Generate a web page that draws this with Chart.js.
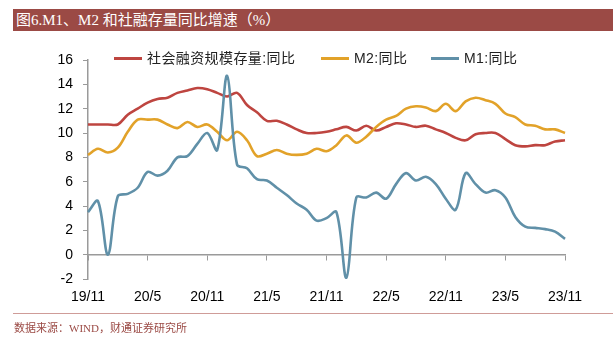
<!DOCTYPE html>
<html>
<head>
<meta charset="utf-8">
<script src="https://cdn.jsdelivr.net/npm/chart.js@4.4.1/dist/chart.umd.min.js"></script>
<style>
  body { margin: 0; background: #fff; }
  #wrap { position: relative; width: 613px; height: 340px; overflow: hidden; }
  #chart { position: absolute; left: 0; top: 0; }
  .title {
    position: absolute; left: 13px; top: 9px; width: 600px; height: 22px;
    background: #9b4a45; color: #fff;
    font: 15px "Liberation Serif", "Noto Sans CJK SC", serif;
    line-height: 22px; padding-left: 3px; box-sizing: border-box;
  }
  .rule { position: absolute; left: 13px; top: 313px; width: 600px; height: 1px; background: #cf9c98; }
  .source {
    position: absolute; left: 14px; top: 319px;
    font: 11px "Liberation Serif", "Noto Sans CJK SC", serif; color: #9b4a45;
  }
  .lg { position: absolute; top: 50px; font: 14px "Liberation Sans", "Noto Sans CJK SC", sans-serif; color: #222; line-height: 16px; letter-spacing: 0.4px; }
  .sw { position: absolute; top: 57px; height: 3px; width: 28px; }
</style>
</head>
<body>
<div id="wrap">
  <canvas id="chart" width="613" height="340"></canvas>
  <div class="title">图6.M1、M2 和社融存量同比增速（%）</div>
  <div class="sw" style="left:114px;background:#be4540"></div>
  <div class="lg" style="left:147px">社会融资规模存量:同比</div>
  <div class="sw" style="left:321px;background:#e2a229"></div>
  <div class="lg" style="left:354px">M2:同比</div>
  <div class="sw" style="left:431px;background:#6090a8"></div>
  <div class="lg" style="left:464px">M1:同比</div>
  <div class="rule"></div>
  <div class="source">数据来源：WIND，财通证券研究所</div>
</div>
<script>
// months 2019/11 .. 2023/11
const months = [
  '19/11','19/12',
  '20/1','20/2','20/3','20/4','20/5','20/6','20/7','20/8','20/9','20/10','20/11','20/12',
  '21/1','21/2','21/3','21/4','21/5','21/6','21/7','21/8','21/9','21/10','21/11','21/12',
  '22/1','22/2','22/3','22/4','22/5','22/6','22/7','22/8','22/9','22/10','22/11','22/12',
  '23/1','23/2','23/3','23/4','23/5','23/6','23/7','23/8','23/9','23/10','23/11'
];

const tsf = [
  10.7, 10.7,
  10.7, 10.7, 11.5, 12.0, 12.5, 12.8, 12.9, 13.3, 13.5, 13.7, 13.6, 13.3,
  13.0, 13.3, 12.3, 11.7, 11.0, 11.0, 10.7, 10.3, 10.0, 10.0, 10.1, 10.3,
  10.5, 10.2, 10.6, 10.2, 10.5, 10.8, 10.7, 10.5, 10.6, 10.3, 10.0, 9.6,
  9.4, 9.9, 10.0, 10.0, 9.5, 9.0, 8.9, 9.0, 9.0, 9.3, 9.4
];

const m2 = [
  8.2, 8.7,
  8.4, 8.8, 10.1, 11.1, 11.1, 11.1, 10.7, 10.4, 10.9, 10.5, 10.7, 10.1,
  9.4, 10.1, 9.4, 8.1, 8.3, 8.6, 8.3, 8.2, 8.3, 8.7, 8.5, 9.0,
  9.8, 9.2, 9.7, 10.5, 11.1, 11.4, 12.0, 12.2, 12.1, 11.8, 12.4, 11.8,
  12.6, 12.9, 12.7, 12.4, 11.6, 11.3, 10.7, 10.6, 10.3, 10.3, 10.0
];

const m1 = [
  3.5, 4.4,
  0.0, 4.8, 5.0, 5.5, 6.8, 6.5, 6.9, 8.0, 8.1, 9.1, 10.0, 8.6,
  14.7, 7.4, 7.1, 6.2, 6.1, 5.5, 4.9, 4.2, 3.7, 2.8, 3.0, 3.5,
  -1.9, 4.7, 4.7, 5.1, 4.6, 5.8, 6.7, 6.1, 6.4, 5.8, 4.6, 3.7,
  6.7, 5.8, 5.1, 5.3, 4.7, 3.1, 2.3, 2.2, 2.1, 1.9, 1.3
];

const axisGray = '#9a9a9a';
const tickFont = { family: '"Liberation Sans", Arial, sans-serif', size: 14 };

function line(label, data, color, order) {
  return {
    label: label, data: data, borderColor: color, backgroundColor: color,
    borderWidth: 2.6, pointRadius: 0, tension: 0.35, order: order
  };
}

new Chart(document.getElementById('chart'), {
  type: 'line',
  data: {
    labels: months,
    datasets: [
      line('社会融资规模存量:同比', tsf, '#be4540', 3),
      line('M2:同比', m2, '#e2a229', 2),
      line('M1:同比', m1, '#6090a8', 1)
    ]
  },
  options: {
    responsive: false,
    animation: false,
    layout: { padding: { top: 60, right: 48, bottom: 0, left: 0 } },
    plugins: { legend: { display: false }, tooltip: { enabled: false } },
    scales: {
      x: {
        position: 'bottom',
        grid: { display: false, drawTicks: false },
        border: { display: false },
        ticks: {
          autoSkip: false, maxRotation: 0, padding: 10, color: '#000', font: tickFont,
          callback: function (v, i) { return i % 6 === 0 ? this.getLabelForValue(v) : ''; }
        },
        afterFit: function (s) { s.height = 61; }
      },
      x2: {
        type: 'category',
        position: { y: 0 },
        grid: {
          drawOnChartArea: false, tickLength: 5, lineWidth: 1,
          color: function (ctx) { return ctx.index % 6 === 0 ? axisGray : 'rgba(0,0,0,0)'; }
        },
        border: { color: axisGray, width: 1.5 },
        ticks: { display: false, autoSkip: false }
      },
      y: {
        min: -2, max: 16,
        grid: { drawOnChartArea: false, tickLength: 5, color: axisGray },
        border: { color: axisGray, width: 1.5 },
        ticks: { stepSize: 2, padding: 10, color: '#000', font: tickFont },
        afterFit: function (s) { s.width = 88; }
      }
    }
  }
});
</script>
</body>
</html>
